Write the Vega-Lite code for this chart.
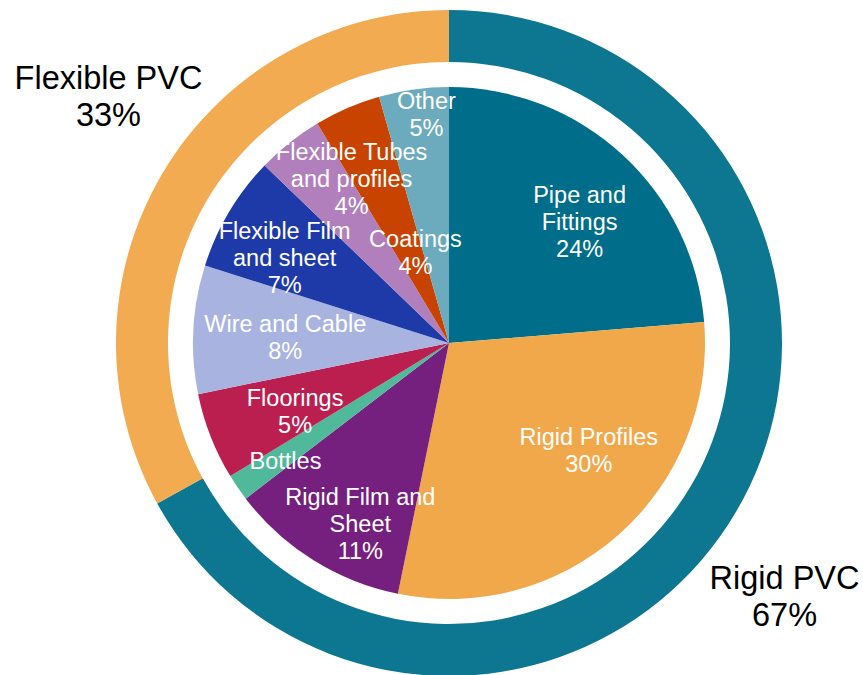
{
  "$schema": "https://vega.github.io/schema/vega-lite/v6.json",
  "width": 828,
  "height": 664,
  "padding": {"left": 35, "top": 11, "right": 0, "bottom": 0},
  "autosize": {"type": "none"},
  "background": "white",
  "view": {"stroke": null},
  "config": {"text": {"font": "Liberation Sans", "fill": "white", "fontSize": 23.5, "lineHeight": 27, "lineBreak": "\n", "align": "center", "baseline": "middle"}},
  "datasets": {
    "segments": [
      {"cat": "Pipe and Fittings", "label": "Pipe and\nFittings\n24%", "pct": 23.7, "idx": 1},
      {"cat": "Rigid Profiles", "label": "Rigid Profiles\n30%", "pct": 29.5, "idx": 2},
      {"cat": "Rigid Film and Sheet", "label": "Rigid Film and\nSheet\n11%", "pct": 11.4, "idx": 3},
      {"cat": "Bottles", "label": "Bottles", "pct": 1.7, "idx": 4},
      {"cat": "Floorings", "label": "Floorings\n5%", "pct": 5.5, "idx": 5},
      {"cat": "Wire and Cable", "label": "Wire and Cable\n8%", "pct": 8.1, "idx": 6},
      {"cat": "Flexible Film and sheet", "label": "Flexible Film\nand sheet\n7%", "pct": 7.3, "idx": 7},
      {"cat": "Flexible Tubes and profiles", "label": "Flexible Tubes\nand profiles\n4%", "pct": 4.2, "idx": 8},
      {"cat": "Coatings", "label": "Coatings\n4%", "pct": 4.2, "idx": 9},
      {"cat": "Other", "label": "Other\n5%", "pct": 4.4, "idx": 10}
    ],
    "groups": [
      {"cat": "Rigid PVC", "label": "Rigid PVC\n67%", "pct": 67, "idx": 1},
      {"cat": "Flexible PVC", "label": "Flexible PVC\n33%", "pct": 33, "idx": 2}
    ]
  },
  "encoding": {
    "theta": {"field": "pct", "type": "quantitative", "stack": true},
    "order": {"field": "idx", "type": "quantitative"}
  },
  "layer": [
    {
      "data": {"name": "groups"},
      "mark": {"type": "arc", "radius": 333, "radius2": 281},
      "encoding": {
        "color": {
          "field": "cat", "type": "nominal", "legend": null,
          "scale": {
            "domain": ["Rigid PVC", "Flexible PVC", "Pipe and Fittings", "Rigid Profiles", "Rigid Film and Sheet", "Bottles", "Floorings", "Wire and Cable", "Flexible Film and sheet", "Flexible Tubes and profiles", "Coatings", "Other"],
            "range": ["#0d7690", "#f2ab50", "#006e8a", "#f0a84a", "#75207f", "#50b99a", "#bb1f50", "#a9b3df", "#1e3aa8", "#b17fbb", "#c84300", "#6cabbd"]
          }
        }
      }
    },
    {
      "data": {"name": "segments"},
      "mark": {"type": "arc", "radius": 256},
      "encoding": {"color": {"field": "cat", "type": "nominal", "legend": null}}
    },
    {
      "data": {"name": "segments"},
      "mark": {"type": "text", "radius": 175, "dx": 12, "dy": -18},
      "encoding": {
        "detail": {"field": "cat", "type": "nominal"},
        "text": {"condition": {"test": "datum.cat == 'Pipe and Fittings'", "field": "label", "type": "nominal"}, "value": ""}
      }
    },
    {
      "data": {"name": "segments"},
      "mark": {"type": "text", "radius": 176, "dx": 23, "dy": -37},
      "encoding": {
        "detail": {"field": "cat", "type": "nominal"},
        "text": {"condition": {"test": "datum.cat == 'Rigid Profiles'", "field": "label", "type": "nominal"}, "value": ""}
      }
    },
    {
      "data": {"name": "segments"},
      "mark": {"type": "text", "radius": 203, "dx": 19, "dy": -17},
      "encoding": {
        "detail": {"field": "cat", "type": "nominal"},
        "text": {"condition": {"test": "datum.cat == 'Rigid Film and Sheet'", "field": "label", "type": "nominal"}, "value": ""}
      }
    },
    {
      "data": {"name": "segments"},
      "mark": {"type": "text", "radius": 203, "dx": 4, "dy": 4},
      "encoding": {
        "detail": {"field": "cat", "type": "nominal"},
        "text": {"condition": {"test": "datum.cat == 'Bottles'", "field": "label", "type": "nominal"}, "value": ""}
      }
    },
    {
      "data": {"name": "segments"},
      "mark": {"type": "text", "radius": 175, "dx": 9, "dy": -8},
      "encoding": {
        "detail": {"field": "cat", "type": "nominal"},
        "text": {"condition": {"test": "datum.cat == 'Floorings'", "field": "label", "type": "nominal"}, "value": ""}
      }
    },
    {
      "data": {"name": "segments"},
      "mark": {"type": "text", "radius": 175, "dx": 11, "dy": -9},
      "encoding": {
        "detail": {"field": "cat", "type": "nominal"},
        "text": {"condition": {"test": "datum.cat == 'Wire and Cable'", "field": "label", "type": "nominal"}, "value": ""}
      }
    },
    {
      "data": {"name": "segments"},
      "mark": {"type": "text", "radius": 175, "dx": -14, "dy": -21},
      "encoding": {
        "detail": {"field": "cat", "type": "nominal"},
        "text": {"condition": {"test": "datum.cat == 'Flexible Film and sheet'", "field": "label", "type": "nominal"}, "value": ""}
      }
    },
    {
      "data": {"name": "segments"},
      "mark": {"type": "text", "radius": 203, "dx": 29, "dy": -31},
      "encoding": {
        "detail": {"field": "cat", "type": "nominal"},
        "text": {"condition": {"test": "datum.cat == 'Flexible Tubes and profiles'", "field": "label", "type": "nominal"}, "value": ""}
      }
    },
    {
      "data": {"name": "segments"},
      "mark": {"type": "text", "radius": 97, "dx": 5, "dy": -14},
      "encoding": {
        "detail": {"field": "cat", "type": "nominal"},
        "text": {"condition": {"test": "datum.cat == 'Coatings'", "field": "label", "type": "nominal"}, "value": ""}
      }
    },
    {
      "data": {"name": "segments"},
      "mark": {"type": "text", "radius": 229, "dx": 9, "dy": -14},
      "encoding": {
        "detail": {"field": "cat", "type": "nominal"},
        "text": {"condition": {"test": "datum.cat == 'Other'", "field": "label", "type": "nominal"}, "value": ""}
      }
    },
    {
      "data": {"name": "groups"},
      "mark": {"type": "text", "radius": 420, "dx": -26, "dy": 22, "fill": "black", "fontSize": 32.5, "lineHeight": 37},
      "encoding": {
        "detail": {"field": "cat", "type": "nominal"},
        "text": {"condition": {"test": "datum.cat == 'Rigid PVC'", "field": "label", "type": "nominal"}, "value": ""}
      }
    },
    {
      "data": {"name": "groups"},
      "mark": {"type": "text", "radius": 420, "dx": 21, "dy": -50, "fill": "black", "fontSize": 32.5, "lineHeight": 37},
      "encoding": {
        "detail": {"field": "cat", "type": "nominal"},
        "text": {"condition": {"test": "datum.cat == 'Flexible PVC'", "field": "label", "type": "nominal"}, "value": ""}
      }
    }
  ]
}
